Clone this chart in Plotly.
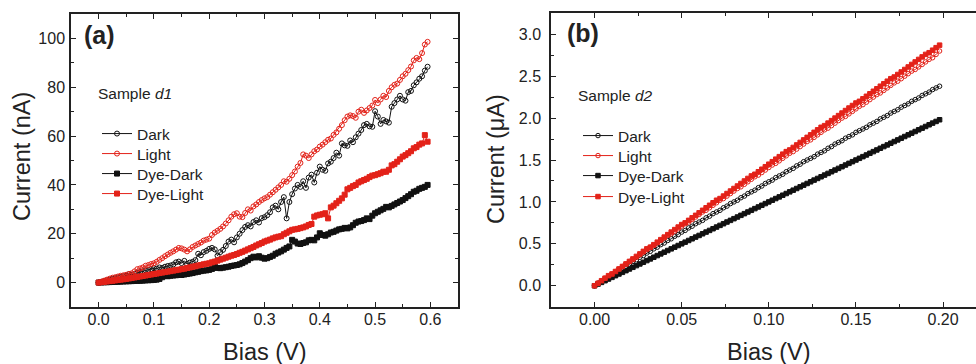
import numpy as np
import plotly.graph_objects as go

# ---------------- Panel (a): Sample d1, bias 0 .. 0.595 V step 0.005, current in nA
bias_a = [round(0.005 * i, 3) for i in range(120)]

dark_a = [
    0, 0.3, 0.6, 0.9, 1.2, 1.5, 1.8, 2.1, 2.3, 2.6,
    2.8, 3.5, 3.2, 3.6, 4.0, 4.3, 4.6, 5.0, 5.2, 5.5,
    5.9, 5.7, 6.2, 6.0, 6.5, 6.8, 7.0, 7.4, 8.3, 8.6,
    8.0, 8.9, 7.6, 8.2, 8.5, 9.2, 11.8, 11.2, 12.5, 13.0,
    13.8, 14.2, 13.6, 11.0, 12.5, 13.4, 15.0, 16.8, 17.6, 16.5,
    18.5, 20.0, 21.5, 22.8, 23.5, 23.0, 24.8, 25.5, 24.6, 26.4,
    26.8, 27.6, 28.8, 30.8, 31.5, 30.0, 33.0, 35.0, 26.3, 33.0,
    36.2, 38.5, 40.0, 39.2, 41.5, 38.8, 43.0, 44.2, 41.0, 45.0,
    47.5, 46.2, 45.8, 48.8, 49.5, 51.0, 53.2, 52.0, 57.0, 56.2,
    56.0, 58.2, 57.5, 59.5, 61.0, 62.5, 64.5, 65.0, 64.0, 63.8,
    70.2, 68.0, 65.0, 66.6, 66.0, 65.5, 72.0, 73.5, 75.0, 76.5,
    75.0, 74.5, 78.0, 78.5, 80.8, 82.0, 83.5, 84.5, 86.8, 88.4,
]
light_a = [
    0, 0.4, 0.8, 1.2, 1.6, 2.0, 2.2, 2.5, 2.8, 3.0,
    3.2, 3.5, 3.8, 4.6, 5.5, 5.8, 6.2, 6.9, 7.2, 7.6,
    7.9, 8.5, 9.3, 10.0, 10.8, 11.5, 12.2, 12.8, 13.5, 14.2,
    14.0, 13.5, 12.8, 13.6, 14.6, 15.2, 15.8, 16.4, 17.2, 17.6,
    18.0, 19.5, 20.5, 21.2, 22.0, 23.0, 24.2, 25.5, 27.0, 28.0,
    28.4, 27.0, 26.8, 28.5, 30.0, 29.5, 31.2, 32.0, 33.0, 33.8,
    34.5, 35.0, 36.0, 37.0, 38.0, 39.0, 40.0, 41.5, 41.3, 42.5,
    44.0, 45.5, 47.5, 49.0, 52.5, 52.0, 51.0, 52.5, 53.8, 54.5,
    55.7, 56.5, 57.5, 58.5, 59.0, 60.5, 61.5, 63.0, 64.5, 66.5,
    68.0, 68.5, 68.2, 67.5, 70.0, 70.8, 69.5, 70.5, 71.5, 72.5,
    74.8, 73.5, 75.0, 76.5, 76.0, 78.5, 80.0, 81.0, 81.5, 83.0,
    84.5, 85.5, 87.0, 88.5, 91.0, 92.0, 91.5, 94.0, 97.5, 98.6,
]
dye_dark_a = [
    0, 0.05, 0.1, 0.15, 0.2, 0.25, 0.3, 0.35, 0.4, 0.45,
    0.5, 0.55, 0.6, 0.65, 0.7, 0.75, 0.8, 0.9, 0.95, 1.0,
    1.1, 1.2, 1.5, 2.2, 2.7, 2.6, 2.8, 2.9, 3.0, 3.1,
    3.1, 3.3, 3.5, 3.7, 3.9, 4.2, 4.4, 4.7, 4.9, 5.0,
    5.2, 5.6, 6.6, 6.0, 5.9, 6.1, 6.3, 6.5, 6.8, 7.0,
    7.2, 7.5, 8.0, 8.6, 9.2, 10.0, 10.6, 10.3, 10.8, 10.2,
    9.8, 10.0, 10.5, 11.0, 11.8, 12.3, 12.8, 13.5, 14.2, 14.8,
    17.5, 16.8, 16.0, 15.8, 16.2, 16.5, 17.3, 17.5, 17.3, 18.5,
    20.2, 19.5, 19.2, 19.8, 20.5, 20.8, 21.3, 21.8, 22.0, 22.4,
    22.2, 22.6, 23.5, 24.5, 25.0, 25.2, 25.6, 26.3, 26.0, 27.4,
    28.4, 29.0, 29.6, 30.2, 31.0, 30.8, 31.4, 32.0, 32.6, 33.2,
    33.8, 34.6, 35.4, 36.2, 37.2, 37.6, 38.4, 38.8, 39.2, 40.0,
]
dye_light_a = [
    0, 0.15, 0.3, 0.45, 0.6, 0.75, 0.9, 1.05, 1.2, 1.35,
    1.5, 1.7, 1.9, 2.1, 2.3, 2.5, 2.7, 2.9, 3.1, 3.3,
    3.5, 3.7, 3.9, 4.1, 4.3, 4.5, 4.7, 4.9, 5.1, 5.3,
    5.5, 5.7, 6.0, 6.2, 6.5, 6.7, 7.0, 7.2, 7.5, 7.7,
    7.9, 8.3, 8.6, 9.0, 9.4, 9.8, 10.2, 10.6, 11.0, 11.3,
    11.7, 12.2, 12.6, 13.1, 13.6, 14.1, 14.6, 15.2, 15.7, 16.2,
    16.8, 17.2, 17.6, 18.1, 18.5, 18.8, 19.0, 19.8, 20.4, 21.0,
    21.6, 21.8, 22.0, 22.3, 22.6, 23.0, 23.6, 24.0, 27.0, 27.5,
    27.8, 28.0, 28.4, 26.3, 30.8, 31.5, 32.5, 33.5, 34.5, 36.0,
    38.2, 38.8, 39.5, 40.0, 41.0, 41.5, 42.0, 42.5, 43.2, 43.8,
    44.0, 44.4, 44.8, 45.4, 45.4, 46.2, 48.0, 48.5, 49.5, 50.5,
    51.6, 52.2, 53.0, 53.8, 55.0, 55.5, 56.5, 57.0, 60.4, 57.7,
]

# ---------------- Panel (b): Sample d2, bias 0 .. 0.198 V step 0.002, current in uA
bias_b = [round(0.002 * i, 3) for i in range(100)]

dark_b = [
    0.00, 0.03, 0.05, 0.08, 0.10, 0.13, 0.16, 0.18, 0.21, 0.23,
    0.26, 0.29, 0.31, 0.34, 0.36, 0.39, 0.41, 0.44, 0.46, 0.49,
    0.51, 0.54, 0.56, 0.59, 0.61, 0.64, 0.66, 0.69, 0.71, 0.74,
    0.76, 0.78, 0.81, 0.83, 0.86, 0.88, 0.90, 0.93, 0.95, 0.98,
    1.00, 1.02, 1.05, 1.07, 1.10, 1.12, 1.14, 1.17, 1.19, 1.22,
    1.24, 1.26, 1.29, 1.31, 1.33, 1.36, 1.38, 1.40, 1.43, 1.45,
    1.48, 1.50, 1.52, 1.54, 1.57, 1.59, 1.61, 1.64, 1.66, 1.69,
    1.71, 1.73, 1.76, 1.78, 1.80, 1.83, 1.85, 1.87, 1.89, 1.92,
    1.94, 1.96, 1.99, 2.01, 2.03, 2.06, 2.08, 2.10, 2.13, 2.15,
    2.17, 2.20, 2.22, 2.24, 2.27, 2.29, 2.31, 2.34, 2.36, 2.38,
]
light_b = [
    0.00, 0.03, 0.06, 0.09, 0.11, 0.14, 0.17, 0.20, 0.23, 0.26,
    0.29, 0.31, 0.34, 0.37, 0.40, 0.43, 0.46, 0.48, 0.51, 0.54,
    0.57, 0.60, 0.62, 0.65, 0.68, 0.71, 0.74, 0.76, 0.79, 0.82,
    0.85, 0.88, 0.90, 0.93, 0.96, 0.99, 1.02, 1.04, 1.07, 1.10,
    1.13, 1.16, 1.18, 1.21, 1.24, 1.27, 1.30, 1.32, 1.35, 1.38,
    1.41, 1.44, 1.46, 1.49, 1.52, 1.55, 1.58, 1.60, 1.63, 1.66,
    1.69, 1.72, 1.74, 1.77, 1.80, 1.83, 1.86, 1.88, 1.91, 1.94,
    1.97, 2.00, 2.02, 2.05, 2.08, 2.11, 2.14, 2.16, 2.19, 2.22,
    2.25, 2.28, 2.30, 2.33, 2.36, 2.39, 2.42, 2.44, 2.47, 2.50,
    2.53, 2.56, 2.58, 2.61, 2.64, 2.67, 2.70, 2.72, 2.76, 2.80,
]
dye_dark_b = [
    0.00, 0.02, 0.04, 0.06, 0.08, 0.10, 0.12, 0.14, 0.16, 0.18,
    0.20, 0.22, 0.24, 0.26, 0.28, 0.30, 0.32, 0.34, 0.36, 0.38,
    0.40, 0.42, 0.44, 0.46, 0.48, 0.50, 0.52, 0.54, 0.56, 0.58,
    0.60, 0.62, 0.64, 0.66, 0.68, 0.70, 0.72, 0.74, 0.76, 0.78,
    0.80, 0.82, 0.84, 0.86, 0.88, 0.90, 0.92, 0.94, 0.96, 0.98,
    1.00, 1.02, 1.04, 1.06, 1.08, 1.10, 1.12, 1.14, 1.16, 1.18,
    1.20, 1.22, 1.24, 1.26, 1.28, 1.30, 1.32, 1.34, 1.36, 1.38,
    1.40, 1.42, 1.44, 1.46, 1.48, 1.50, 1.52, 1.54, 1.56, 1.58,
    1.60, 1.62, 1.64, 1.66, 1.68, 1.70, 1.72, 1.74, 1.76, 1.78,
    1.80, 1.82, 1.84, 1.86, 1.88, 1.90, 1.92, 1.94, 1.96, 1.98,
]
dye_light_b = [
    0.00, 0.03, 0.06, 0.09, 0.12, 0.14, 0.17, 0.20, 0.23, 0.26,
    0.29, 0.32, 0.35, 0.38, 0.41, 0.44, 0.46, 0.49, 0.52, 0.55,
    0.58, 0.61, 0.64, 0.67, 0.70, 0.73, 0.75, 0.78, 0.81, 0.84,
    0.87, 0.90, 0.93, 0.96, 0.99, 1.02, 1.04, 1.07, 1.10, 1.13,
    1.16, 1.19, 1.22, 1.25, 1.28, 1.31, 1.33, 1.36, 1.39, 1.42,
    1.45, 1.48, 1.51, 1.54, 1.57, 1.60, 1.62, 1.65, 1.68, 1.71,
    1.74, 1.77, 1.80, 1.83, 1.86, 1.89, 1.91, 1.94, 1.97, 2.00,
    2.03, 2.06, 2.09, 2.12, 2.15, 2.18, 2.20, 2.23, 2.26, 2.29,
    2.32, 2.35, 2.38, 2.41, 2.44, 2.47, 2.49, 2.52, 2.55, 2.58,
    2.61, 2.64, 2.67, 2.70, 2.73, 2.76, 2.78, 2.81, 2.84, 2.87,
]

series_names = ["Dark", "Light", "Dye-Dark", "Dye-Light"]

RED = "#e32219"
BLK = "#111111"
FONT = "Liberation Sans, Arial, sans-serif"
W, H = 976, 364

styles = [
    dict(color=BLK, symbol="circle-open"),
    dict(color=RED, symbol="circle-open"),
    dict(color=BLK, symbol="square"),
    dict(color=RED, symbol="square"),
]


def px_x(p):
    return p / W


def px_y(p):
    return 1 - p / H


fig = go.Figure()

data_a = [dark_a, light_a, dye_dark_a, dye_light_a]
data_b = [dark_b, light_b, dye_dark_b, dye_light_b]

# one single-entry legend per series so rows can be spaced like the original
legend_layout = {}
rows_a = [134, 154, 174, 194]
rows_b = [136, 156, 176, 197]
lg = 1
for name, ys, st, ry in zip(series_names, data_a, styles, rows_a):
    key = "legend" if lg == 1 else f"legend{lg}"
    fig.add_trace(go.Scatter(
        x=bias_a, y=ys, name=name, mode="lines+markers",
        line=dict(color=st["color"], width=1),
        marker=dict(symbol=st["symbol"], size=5, color=st["color"],
                    line=dict(width=1, color=st["color"])),
        xaxis="x", yaxis="y", legend=key,
    ))
    legend_layout[key] = dict(x=px_x(97), y=px_y(ry), xanchor="left", yanchor="middle")
    lg += 1

for name, ys, st, ry in zip(series_names, data_b, styles, rows_b):
    key = f"legend{lg}"
    fig.add_trace(go.Scatter(
        x=bias_b, y=ys, name=name, mode="lines+markers",
        line=dict(color=st["color"], width=1),
        marker=dict(symbol=st["symbol"], size=4.5, color=st["color"],
                    line=dict(width=1, color=st["color"])),
        xaxis="x2", yaxis="y2", legend=key,
    ))
    legend_layout[key] = dict(x=px_x(578), y=px_y(ry), xanchor="left", yanchor="middle")
    lg += 1

for key, d in legend_layout.items():
    d.update(bgcolor="rgba(0,0,0,0)", borderwidth=0,
             font=dict(family=FONT, size=15.5, color="#222"), itemwidth=30)

AX = "#222222"
tickfont = dict(family=FONT, size=16, color="#222")


def axis(**kw):
    base = dict(showgrid=False, zeroline=False, showline=True, linecolor=AX,
                linewidth=1.5, ticks="inside", ticklen=5, tickwidth=1.2,
                tickcolor=AX, tickfont=tickfont)
    base.update(kw)
    return base


fig.update_layout(
    width=W, height=H,
    margin=dict(l=0, r=0, t=0, b=0),
    paper_bgcolor="white", plot_bgcolor="white",
    font=dict(family=FONT, color="#222"),
    xaxis=axis(domain=[px_x(71), px_x(458)], range=[-0.05, 0.65], dtick=0.1,
               tick0=0, tickformat=".1f", mirror="ticks", anchor="y",
               ticklabelstandoff=-3,
               minor=dict(ticks="inside", ticklen=3, dtick=0.05, tick0=0,
                          tickcolor=AX, tickwidth=1.2)),
    yaxis=axis(domain=[px_y(307), px_y(14)], range=[-10, 110], dtick=20,
               tick0=0, mirror="ticks", anchor="x", ticklabelstandoff=1,
               minor=dict(ticks="inside", ticklen=3, dtick=10, tick0=0,
                          tickcolor=AX, tickwidth=1.2)),
    xaxis2=axis(domain=[px_x(551), 1.0], range=[-0.025, 0.2189], dtick=0.05,
                tick0=0, tickformat=".2f", mirror="ticks", anchor="y2",
                ticklabelstandoff=-3,
                minor=dict(ticks="inside", ticklen=3, dtick=0.025, tick0=0,
                           tickcolor=AX, tickwidth=1.2)),
    yaxis2=axis(domain=[px_y(306.7), px_y(13.3)], range=[-0.25, 3.25], dtick=0.5,
                tick0=0, tickformat=".1f", mirror=False, anchor="x2",
                ticklabelstandoff=5,
                minor=dict(ticks="inside", ticklen=3, dtick=0.25, tick0=0,
                           tickcolor=AX, tickwidth=1.2)),
    showlegend=True,
    **legend_layout,
)

ann = [
    dict(text="<b>(a)</b>", x=px_x(82), y=px_y(35), xanchor="left", yanchor="middle",
         font=dict(size=25)),
    dict(text="<b>(b)</b>", x=px_x(565), y=px_y(33), xanchor="left", yanchor="middle",
         font=dict(size=25)),
    dict(text="Sample <i>d1</i>", x=px_x(96), y=px_y(94), xanchor="left", yanchor="middle",
         font=dict(size=15.5)),
    dict(text="Sample <i>d2</i>", x=px_x(576), y=px_y(96), xanchor="left", yanchor="middle",
         font=dict(size=15.5)),
    dict(text="Bias (V)", x=px_x(264.5), y=px_y(352), xanchor="center", yanchor="middle",
         font=dict(size=23.5)),
    dict(text="Bias (V)", x=px_x(769), y=px_y(352), xanchor="center", yanchor="middle",
         font=dict(size=23.5)),
    dict(text="Current (nA)", x=px_x(22), y=px_y(157), xanchor="center", yanchor="middle",
         textangle=-90, font=dict(size=23.5)),
    dict(text="Current (\u03bcA)", x=px_x(496), y=px_y(159), xanchor="center",
         yanchor="middle", textangle=-90, font=dict(size=23.5)),
]
for a in ann:
    a.update(xref="paper", yref="paper", showarrow=False)
    a["font"].update(family=FONT, color="#222")
fig.update_layout(annotations=ann)

fig.write_html(
    "out.html",
    config={"displayModeBar": False},
    post_script="document.body.style.margin='0';document.body.style.overflow='hidden';",
)
